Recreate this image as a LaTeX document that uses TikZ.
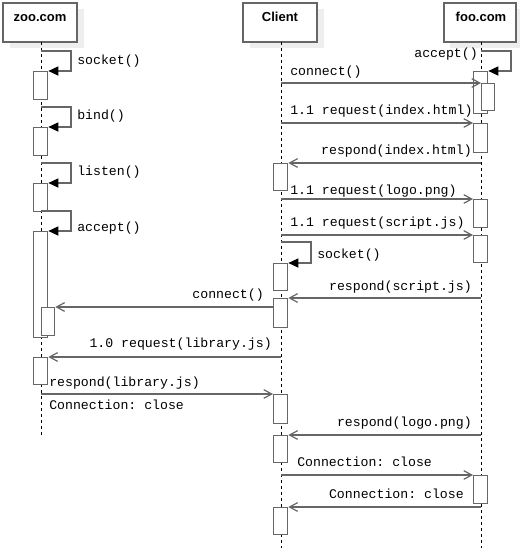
\documentclass[tikz,border=0pt]{standalone}
\usepackage{fontspec}
\setmainfont{Liberation Sans}
\setmonofont{Liberation Mono}
\usetikzlibrary{arrows.meta}
\definecolor{lc}{HTML}{666666}
\definecolor{shadowc}{HTML}{EEEEEE}
\newcommand\actbar[5]{\node[actbar, minimum width=#4*0.75pt, minimum height=#5*0.75pt] (#1) at (#2,#3) {};}
\begin{document}
\begin{tikzpicture}[x=0.75pt,y=-0.75pt,
  head/.style={draw=lc, line width=1.1pt, fill=white, inner sep=0pt},
  headtext/.style={font=\fontsize{9.75}{11}\selectfont\bfseries, inner sep=0pt, anchor=base},
  life/.style={draw=black, line width=0.75pt, dash pattern=on 2.25pt off 2.25pt},
  actbar/.style={draw=lc, fill=white, line width=1pt, inner sep=0pt, anchor=north west},
  msg/.style={draw=lc, line width=1pt, -{Straight Barb[length=6pt,width=6.5pt,line width=0.9pt]}},
  selfmsg/.style={draw=lc, line width=1pt, -{Triangle[length=7.5pt,width=6.8pt,fill=black,color=black]}},
  lbl/.style={font=\fontsize{9.9}{12}\selectfont\ttfamily, inner sep=0pt, text height=7pt, text depth=2pt}
]
\useasboundingbox (0,0) rectangle (520,557);

% header shadows
\fill[shadowc] (10,9) rectangle (84,48);
\fill[shadowc] (250,9) rectangle (324,48);
\fill[shadowc] (450,9) rectangle (522,48);

% header boxes
\node[head, minimum width=74*0.75pt, minimum height=39*0.75pt] (zoo) at (40,22.5) {};
\node[head, minimum width=74*0.75pt, minimum height=39*0.75pt] (client) at (280,22.5) {};
\node[head, minimum width=72*0.75pt, minimum height=39*0.75pt] (foo) at (480,22.5) {};
\node[headtext] (zoot) at (40,21) {zoo.com};
\node[headtext] (clientt) at (280,21) {Client};
\node[headtext] (foot) at (481,21) {foo.com};

% lifelines
\coordinate (zootop) at (41,42);
\coordinate (zooend) at (41,435);
\coordinate (cltop) at (281,42);
\coordinate (clend) at (281,548);
\coordinate (footop) at (481,42);
\coordinate (fooend) at (481,548);
\draw[life] (zootop) -- (zooend);
\draw[life] (cltop) -- (clend);
\draw[life] (footop) -- (fooend);

% activation bars: zoo.com
\actbar{zb1}{33}{71}{14}{28}
\actbar{zb2}{33}{127}{14}{28}
\actbar{zb3}{33}{183}{14}{28}
\actbar{zb4}{33}{231}{14}{106}
\actbar{zb5}{41}{307}{13}{28}
\actbar{zb6}{33}{357}{14}{27}
% Client
\actbar{cb1}{273}{163}{14}{27}
\actbar{cb2}{273}{263}{14}{27}
\actbar{cb3}{273}{298}{14}{29}
\actbar{cb4}{273}{394}{14}{29}
\actbar{cb5}{273}{435}{14}{27}
\actbar{cb6}{273}{507}{14}{27}
% foo.com
\actbar{fb1}{473}{71}{14}{42}
\actbar{fb2}{481}{83}{13}{27}
\actbar{fb3}{473}{123}{14}{29}
\actbar{fb4}{473}{199}{14}{28}
\actbar{fb5}{473}{235}{14}{27}
\actbar{fb6}{473}{475}{14}{28}

% self messages
\coordinate (zs1) at (41,51);
\coordinate (zs2) at (41,107);
\coordinate (zs3) at (41,163);
\coordinate (zs4) at (41,211);
\coordinate (fs1) at (481,51);
\coordinate (cs1) at (281,242);
\draw[selfmsg] (zs1) -- (71,51) -- (71,71) -- (zb1.north east);
\draw[selfmsg] (zs2) -- (71,107) -- (71,127) -- (zb2.north east);
\draw[selfmsg] (zs3) -- (71,163) -- (71,183) -- (zb3.north east);
\draw[selfmsg] (zs4) -- (71,211) -- (71,231) -- (zb4.north east);
\draw[selfmsg] (fs1) -- (511,51) -- (511,71) -- (fb1.north east);
\draw[selfmsg] (cs1) -- (311,242) -- (311,263) -- (cb2.north east);

% messages
\coordinate (m1) at (281,83);
\coordinate (m2) at (281,123);
\coordinate (m3) at (481,163);
\coordinate (m4) at (281,199);
\coordinate (m5) at (281,235);
\coordinate (m7) at (481,298);
\coordinate (m8) at (273,307);
\coordinate (m9) at (281,357);
\coordinate (m10) at (41,394);
\coordinate (m11) at (481,435);
\coordinate (m12) at (281,475);
\coordinate (m13) at (481,507);
\draw[msg] (m1) -- (fb2.north west);
\draw[msg] (m2) -- (fb3.north west);
\draw[msg] (m3) -- (cb1.north east);
\draw[msg] (m4) -- (fb4.north west);
\draw[msg] (m5) -- (fb5.north west);
\draw[msg] (m7) -- (cb3.north east);
\draw[msg] (m8) -- (zb5.north east);
\draw[msg] (m9) -- (zb6.north east);
\draw[msg] (m10) -- (cb4.north west);
\draw[msg] (m11) -- (cb5.north east);
\draw[msg] (m12) -- (fb6.north west);
\draw[msg] (m13) -- (cb6.north east);

% labels
\node[lbl, anchor=west] (l1) at (77,61) {socket()};
\node[lbl, anchor=west] (l2) at (77,116) {bind()};
\node[lbl, anchor=west] (l3) at (77,172) {listen()};
\node[lbl, anchor=west] (l4) at (77,228) {accept()};
\node[lbl, anchor=east] (l5) at (478,54) {accept()};
\node[lbl, anchor=west] (l6) at (290,72) {connect()};
\node[lbl, anchor=west] (l7) at (290,111) {1.1 request(index.html)};
\node[lbl, anchor=east] (l8) at (472,151) {respond(index.html)};
\node[lbl, anchor=west] (l9) at (290,191) {1.1 request(logo.png)};
\node[lbl, anchor=west] (l10) at (290,223) {1.1 request(script.js)};
\node[lbl, anchor=west] (l11) at (317,255) {socket()};
\node[lbl, anchor=east] (l12) at (472,287) {respond(script.js)};
\node[lbl, anchor=east] (l13) at (264,295) {connect()};
\node[lbl, anchor=east] (l14) at (272,344) {1.0 request(library.js)};
\node[lbl, anchor=west] (l15) at (49,383) {respond(library.js)};
\node[lbl, anchor=west] (l16) at (49,406) {Connection: close};
\node[lbl, anchor=east] (l17) at (472,423) {respond(logo.png)};
\node[lbl, anchor=west] (l18) at (297,463) {Connection: close};
\node[lbl, anchor=east] (l19) at (464,495) {Connection: close};
\end{tikzpicture}
\end{document}
